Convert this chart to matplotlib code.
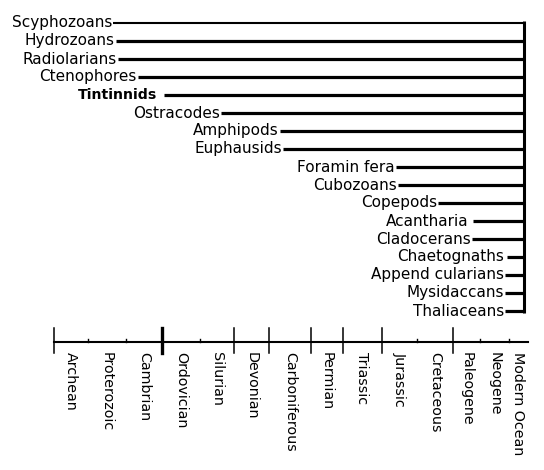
import matplotlib
matplotlib.use("Agg")
import matplotlib.pyplot as plt

# ---- data ----
taxa = ["Scyphozoans", "Hydrozoans", "Radiolarians", "Ctenophores", "Tintinnids",
        "Ostracodes", "Amphipods", "Euphausids", "Foramin fera", "Cubozoans",
        "Copepods", "Acantharia", "Cladocerans", "Chaetognaths", "Append cularians",
        "Mysidaccans", "Thaliaceans"]
# first appearance, expressed on the chart's horizontal time scale
first_appearance = [113, 116, 118, 138, 164, 221, 280, 283, 396, 398, 438, 473, 472,
                    507, 505, 505, 505]
bold_taxa = ["Tintinnids"]
spaced_taxa = {"Tintinnids": 7, "Acantharia": 5, "Chaetognaths": 3}

period_labels = ["Archean", "Proterozoic", "Cambrian", "Ordovician", "Silurian", "Devonian",
                 "Carboniferous", "Permian", "Triassic", "Jurassic", "Cretaceous",
                 "Paleogene", "Neogene", "Modern Ocean"]
boundaries = [54, 88, 126, 162, 200, 234, 269, 311, 343, 382, 417, 453, 480, 509, 528]
major_boundary = [True, False, False, True, False, True, True, True, True, True, False,
                  True, False, False, False]
present = 524

# ---- layout ----
W, H = 544, 470
fig = plt.figure(figsize=(W / 100, H / 100), dpi=100)
ax = fig.add_axes([0, 0, 1, 1])
ax.set_xlim(0, W)
ax.set_ylim(H, 0)
ax.axis("off")

top, step = 23, 18.0
fs_taxa = 11.0
fs_bold = 10.2
fs_period = 10.3
rows = [top + i * step for i in range(len(taxa))]

for name, x0, y in zip(taxa, first_appearance, rows):
    lw = 1.5 if name == "Scyphozoans" else 2.3
    ax.plot([x0, present], [y, y], color="black", lw=lw, solid_capstyle="butt")
    gap = spaced_taxa.get(name, 1)
    is_bold = name in bold_taxa
    ax.text(x0 - gap, y, name, ha="right", va="center",
            fontsize=fs_bold if is_bold else fs_taxa,
            fontweight="bold" if is_bold else "normal",
            family="DejaVu Sans", color="black")

ax.plot([present, present], [rows[0] - 2, rows[-1] + 1.5], color="black", lw=2.2,
        solid_capstyle="butt")

# time axis
axis_y = 342
ax.plot([boundaries[0], boundaries[-1]], [axis_y, axis_y], color="black", lw=1.5)
for b, major in zip(boundaries[:-1], major_boundary[:-1]):
    if major:
        lw = 2.4 if b == boundaries[3] else 1.1
        ax.plot([b, b], [328, 353], color="black", lw=lw)
    else:
        ax.plot([b, b], [339, axis_y], color="black", lw=1.0)

for i, lab in enumerate(period_labels):
    xc = (boundaries[i] + boundaries[i + 1]) / 2
    ax.text(xc, 352, lab, rotation=-90, ha="center", va="top", fontsize=fs_period,
            family="DejaVu Sans", color="black")

fig.savefig("out.png", dpi=100, facecolor="white")
